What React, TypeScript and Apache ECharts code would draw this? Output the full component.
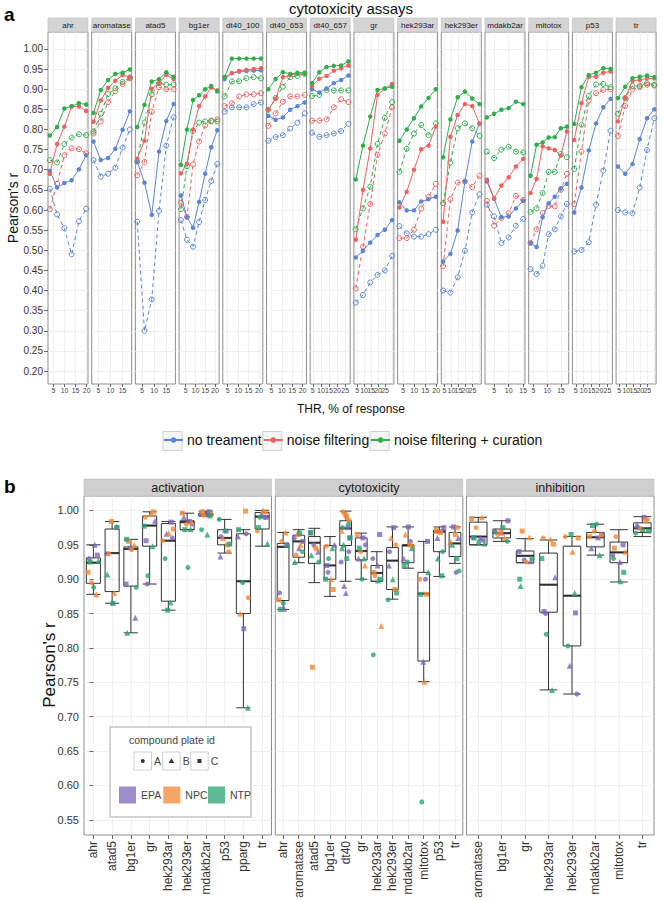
import React, { useEffect, useRef } from 'react';
import * as echarts from 'echarts';

// ---------------- Panel a data ----------------
const FACETS_A = ['ahr', 'aromatase', 'atad5', 'bg1er', 'dt40_100', 'dt40_653', 'dt40_657', 'gr', 'hek293ar', 'hek293er', 'mdakb2ar', 'mitotox', 'p53', 'tr'];

const THR = [
  [3.3, 6.6, 9.9, 13.2, 16.5, 19.8],
  [3, 6, 9, 12, 15, 18],
  [3, 6, 9, 12, 15, 18],
  [2.6, 5.7, 8.8, 11.9, 15, 18.1, 21.2],
  [3.5, 7, 10.5, 14, 17.5, 21],
  [3.5, 7, 10.5, 14, 17.5, 21],
  [4.5, 9, 13.5, 18, 22.5, 27],
  [4, 9.2, 14.4, 19.6, 24.8, 30],
  [3.3, 6.6, 9.9, 13.2, 16.5, 19.8],
  [4, 9.2, 14.4, 19.6, 24.8, 30],
  [2.5, 5, 7.5, 10, 12.5, 15],
  [3.9, 6.1, 8.3, 10.5, 12.7, 14.9, 17.1],
  [4, 8.6, 13.2, 17.8, 22.4, 27],
  [4, 9.2, 14.4, 19.6, 24.8, 30],
];

const X_TICKS_A = [
  [5, 10, 15, 20], [5, 10, 15], [5, 10, 15], [5, 10, 15, 20], [5, 10, 15, 20], [5, 10, 15, 20], [5, 10, 15, 20, 25],
  [5, 10, 15, 20, 25, 30], [5, 10, 15, 20], [5, 10, 15, 20, 25, 30], [5, 10, 15], [5, 10, 15], [5, 10, 15, 20, 25], [5, 10, 15, 20, 25, 30],
];

const Y_TICKS_A = [0.2, 0.25, 0.3, 0.35, 0.4, 0.45, 0.5, 0.55, 0.6, 0.65, 0.7, 0.75, 0.8, 0.85, 0.9, 0.95, 1.0];

// blue, solid (filled points)
const NO_TREAT = [
  [0.697, 0.656, 0.667, 0.674, 0.701, 0.736],
  [0.77, 0.724, 0.729, 0.752, 0.799, 0.845],
  [0.72, 0.668, 0.588, 0.745, 0.821, 0.863],
  [0.636, 0.582, 0.556, 0.62, 0.69, 0.756, 0.798],
  [0.925, 0.94, 0.944, 0.945, 0.946, 0.947],
  [0.834, 0.824, 0.83, 0.849, 0.858, 0.867],
  [0.9, 0.892, 0.902, 0.915, 0.923, 0.934],
  [0.482, 0.499, 0.519, 0.538, 0.551, 0.575],
  [0.619, 0.599, 0.599, 0.621, 0.627, 0.633],
  [0.472, 0.491, 0.549, 0.671, 0.77, 0.814],
  [0.671, 0.628, 0.582, 0.584, 0.604, 0.623],
  [0.518, 0.508, 0.582, 0.617, 0.633, 0.654, 0.665],
  [0.594, 0.656, 0.748, 0.815, 0.855, 0.876],
  [0.708, 0.69, 0.714, 0.776, 0.828, 0.85],
];
// blue, dashed (open points)
const NO_TREAT_OPEN = [
  [0.653, 0.589, 0.555, 0.49, 0.572, 0.603],
  [0.724, 0.683, 0.69, 0.705, 0.755, 0.8],
  [0.571, 0.3, 0.378, 0.598, 0.76, 0.83],
  [0.575, 0.526, 0.509, 0.57, 0.625, 0.672, 0.714],
  [0.844, 0.855, 0.855, 0.855, 0.863, 0.867],
  [0.772, 0.781, 0.786, 0.802, 0.817, 0.84],
  [0.792, 0.782, 0.786, 0.79, 0.796, 0.814],
  [0.37, 0.389, 0.42, 0.439, 0.45, 0.486],
  [0.56, 0.542, 0.534, 0.534, 0.54, 0.551],
  [0.4, 0.395, 0.433, 0.499, 0.594, 0.639],
  [0.613, 0.584, 0.518, 0.532, 0.561, 0.578],
  [0.453, 0.441, 0.462, 0.54, 0.552, 0.584, 0.615],
  [0.497, 0.501, 0.52, 0.613, 0.698, 0.797],
  [0.6, 0.594, 0.592, 0.656, 0.749, 0.828],
];
// red, solid
const NOISE = [
  [0.69, 0.764, 0.807, 0.857, 0.857, 0.846],
  [0.819, 0.872, 0.903, 0.921, 0.935, 0.93],
  [0.727, 0.772, 0.901, 0.915, 0.936, 0.925],
  [0.691, 0.715, 0.8, 0.858, 0.882, 0.904, 0.897],
  [0.93, 0.94, 0.945, 0.948, 0.95, 0.952],
  [0.849, 0.876, 0.93, 0.935, 0.938, 0.938],
  [0.908, 0.926, 0.933, 0.946, 0.952, 0.959],
  [0.526, 0.65, 0.753, 0.886, 0.901, 0.913],
  [0.606, 0.645, 0.7, 0.751, 0.76, 0.807],
  [0.571, 0.782, 0.836, 0.863, 0.858, 0.815],
  [0.675, 0.629, 0.661, 0.681, 0.708, 0.727],
  [0.642, 0.677, 0.758, 0.753, 0.749, 0.735, 0.795],
  [0.774, 0.865, 0.931, 0.931, 0.941, 0.944],
  [0.82, 0.878, 0.921, 0.923, 0.927, 0.927],
];
// red, dashed
const NOISE_OPEN = [
  [0.602, 0.665, 0.736, 0.753, 0.751, 0.741],
  [0.79, 0.82, 0.868, 0.895, 0.913, 0.927],
  [0.686, 0.719, 0.844, 0.905, 0.9, 0.9],
  [0.618, 0.583, 0.713, 0.77, 0.81, 0.82, 0.825],
  [0.858, 0.865, 0.882, 0.887, 0.887, 0.89],
  [0.809, 0.84, 0.869, 0.882, 0.882, 0.886],
  [0.822, 0.822, 0.825, 0.855, 0.875, 0.868],
  [0.405, 0.509, 0.615, 0.737, 0.79, 0.855],
  [0.53, 0.53, 0.551, 0.604, 0.633, 0.665],
  [0.461, 0.627, 0.668, 0.671, 0.657, 0.685],
  [0.623, 0.561, 0.58, 0.592, 0.635, 0.625],
  [0.518, 0.552, 0.592, 0.61, 0.609, 0.65, 0.69],
  [0.615, 0.745, 0.872, 0.89, 0.898, 0.9],
  [0.784, 0.858, 0.9, 0.905, 0.911, 0.909],
];
// green, solid
const CURATION = [
  [0.785, 0.806, 0.852, 0.858, 0.865, 0.862],
  [0.841, 0.898, 0.923, 0.938, 0.941, 0.949],
  [0.806, 0.861, 0.919, 0.925, 0.942, 0.931],
  [0.712, 0.8, 0.873, 0.885, 0.9, 0.908, 0.895],
  [0.93, 0.976, 0.976, 0.976, 0.976, 0.976],
  [0.9, 0.925, 0.942, 0.938, 0.941, 0.941],
  [0.915, 0.942, 0.955, 0.958, 0.959, 0.969],
  [0.676, 0.76, 0.832, 0.898, 0.902, 0.906],
  [0.772, 0.8, 0.828, 0.857, 0.878, 0.9],
  [0.731, 0.825, 0.88, 0.894, 0.877, 0.863],
  [0.83, 0.839, 0.849, 0.853, 0.869, 0.863],
  [0.685, 0.762, 0.768, 0.78, 0.781, 0.803, 0.807],
  [0.814, 0.905, 0.935, 0.941, 0.952, 0.95],
  [0.878, 0.906, 0.927, 0.931, 0.934, 0.93],
];
// green, dashed
const CURATION_OPEN = [
  [0.724, 0.718, 0.764, 0.78, 0.788, 0.786],
  [0.795, 0.839, 0.888, 0.902, 0.918, 0.929],
  [0.72, 0.817, 0.887, 0.915, 0.911, 0.911],
  [0.602, 0.709, 0.796, 0.817, 0.82, 0.822, 0.82],
  [0.882, 0.919, 0.92, 0.927, 0.93, 0.927],
  [0.849, 0.878, 0.906, 0.93, 0.933, 0.938],
  [0.883, 0.886, 0.898, 0.897, 0.897, 0.897],
  [0.552, 0.604, 0.658, 0.764, 0.829, 0.868],
  [0.695, 0.752, 0.79, 0.811, 0.786, 0.815],
  [0.617, 0.718, 0.803, 0.815, 0.803, 0.784],
  [0.745, 0.729, 0.75, 0.757, 0.745, 0.743],
  [0.595, 0.604, 0.642, 0.695, 0.695, 0.739, 0.731],
  [0.702, 0.812, 0.883, 0.912, 0.913, 0.905],
  [0.839, 0.878, 0.908, 0.908, 0.915, 0.911],
];

const NAMES_A = ['no treament', 'noise filtering', 'noise filtering + curation'];

// ---------------- Panel b data ----------------
const FACETS_B = ['activation', 'cytotoxicity', 'inhibition'];
const CAT_ACT = ['ahr', 'atad5', 'bg1er', 'gr', 'hek293ar', 'hek293er', 'mdakb2ar', 'p53', 'pparg', 'tr'];
const CAT_CYT = ['ahr', 'aromatase', 'atad5', 'bg1er', 'dt40', 'gr', 'hek293ar', 'hek293er', 'mdakb2ar', 'mitotox', 'p53', 'tr'];
const CAT_INH = ['aromatase', 'bg1er', 'gr', 'hek293ar', 'hek293er', 'mdakb2ar', 'mitotox', 'tr'];
const Y_TICKS_B = [0.55, 0.6, 0.65, 0.7, 0.75, 0.8, 0.85, 0.9, 0.95, 1.0];

// [lower whisker, Q1, median, Q3, upper whisker]
const BOX_ACT = [
  [0.878, 0.894, 0.924, 0.931, 0.95],
  [0.865, 0.882, 0.938, 0.973, 0.984],
  [0.822, 0.89, 0.944, 0.947, 0.958],
  [0.893, 0.948, 0.978, 0.992, 0.998],
  [0.855, 0.868, 0.956, 0.981, 0.984],
  [0.972, 0.972, 0.983, 0.985, 0.996],
  [0.992, 0.992, 0.995, 0.996, 0.999],
  [0.938, 0.95, 0.96, 0.972, 0.987],
  [0.713, 0.85, 0.897, 0.966, 0.972],
  [0.948, 0.973, 0.991, 0.997, 1.0],
];
const BOX_CYT = [
  [0.856, 0.869, 0.947, 0.952, 0.968],
  [0.924, 0.932, 0.955, 0.964, 0.972],
  [0.895, 0.923, 0.953, 0.962, 0.974],
  [0.875, 0.9, 0.92, 0.949, 0.962],
  [0.897, 0.949, 0.974, 0.985, 0.999],
  [0.9, 0.928, 0.941, 0.96, 0.967],
  [0.897, 0.897, 0.909, 0.92, 0.94],
  [0.871, 0.885, 0.927, 0.946, 0.976],
  [0.916, 0.924, 0.949, 0.95, 0.976],
  [0.751, 0.781, 0.879, 0.91, 0.955],
  [0.904, 0.94, 0.969, 0.971, 0.976],
  [0.923, 0.933, 0.952, 0.968, 0.976],
];
const BOX_INH = [
  [0.95, 0.95, 0.962, 0.983, 0.99],
  [0.955, 0.96, 0.967, 0.973, 0.985],
  [0.924, 0.924, 0.934, 0.941, 0.959],
  [0.739, 0.852, 0.892, 0.938, 0.957],
  [0.733, 0.803, 0.876, 0.948, 0.962],
  [0.935, 0.947, 0.961, 0.968, 0.98],
  [0.896, 0.924, 0.939, 0.954, 0.972],
  [0.962, 0.968, 0.974, 0.982, 0.991],
];

// per category: values for plates A, B, C (dt40 pools three assays)
const ACT_EPA = [[0.93, 0.95, 0.935], [0.937, 0.866, 0.975], [0.945, 0.844, 0.893], [0.893, 0.985, 0.956], [0.96, 0.966, 0.983], [0.98, 0.99, 0.984], [0.994, 0.996, 0.998], [0.962, 0.933, 0.97], [0.966, 0.962, 0.828], [0.99, 0.995, 0.99]];
const ACT_NPC = [[0.895, 0.878, 0.91], [0.937, 0.88, 0.984], [0.943, 0.95, 0.955], [0.99, 0.995, 0.998], [0.956, 0.967, 0.973], [0.98, 0.984, 0.996], [0.993, 0.996, 0.998], [0.94, 0.96, 0.95], [0.873, 0.85, 0.999], [0.97, 1.0, 0.998]];
const ACT_NTP = [[0.888, 0.927, 0.925], [0.976, 0.907, 0.865], [0.888, 0.822, 0.958], [0.905, 0.948, 0.977], [0.93, 0.866, 0.855], [0.917, 0.973, 0.972], [0.972, 0.965, 0.992], [0.987, 0.972, 0.951], [0.895, 0.713, 0.972], [0.99, 0.952, 0.975]];

const CYT_EPA = [[0.88, 0.857, 0.95], [0.96, 0.945, 0.955], [0.95, 0.94, 0.967], [0.91, 0.95, 0.92], [0.94, 0.89, 0.975, 0.925, 0.88, 0.96], [0.95, 0.93, 0.96], [0.93, 0.92, 0.965], [0.94, 0.92, 0.975], [0.955, 0.93, 0.976], [0.9, 0.78, 0.955], [0.97, 0.96, 0.975], [0.91, 0.96, 0.976]];
const CYT_NPC = [[0.955, 0.968, 0.87], [0.935, 0.95, 0.965], [0.946, 0.945, 0.772], [0.948, 0.9, 0.885], [0.998, 0.99, 0.995, 0.985, 0.97, 0.992], [0.94, 0.92, 0.965], [0.905, 0.832, 0.91], [0.95, 0.96, 0.885], [0.948, 0.965, 0.95], [0.9, 0.751, 0.878], [0.972, 0.97, 0.968], [0.975, 0.955, 0.965]];
const CYT_NTP = [[0.865, 0.95, 0.856], [0.94, 0.925, 0.967], [0.925, 0.935, 0.968], [0.93, 0.945, 0.9], [0.98, 0.95, 0.96, 0.975, 0.945, 0.93], [0.9, 0.93, 0.945], [0.79, 0.898, 0.9], [0.87, 0.9, 0.88], [0.925, 0.945, 0.92], [0.576, 0.91, 0.878], [0.94, 0.93, 0.905], [0.912, 0.95, 0.93]];

const INH_EPA = [[0.96, 0.96, 0.957], [0.97, 0.968, 0.985], [0.928, 0.926, 0.94], [0.85, 0.903, 0.853], [0.733, 0.774, 0.851], [0.965, 0.945, 0.96], [0.935, 0.925, 0.95], [0.975, 0.98, 0.99]];
const INH_NPC = [[0.975, 0.99, 0.988], [0.965, 0.96, 0.968], [0.925, 0.961, 0.97], [0.96, 0.958, 0.951], [0.962, 0.94, 0.96], [0.97, 0.965, 0.962], [0.962, 0.94, 0.945], [0.987, 0.975, 0.985]];
const INH_NTP = [[0.953, 0.952, 0.96], [0.955, 0.97, 0.975], [0.93, 0.89, 0.9], [0.82, 0.739, 0.93], [0.803, 0.88, 0.965], [0.98, 0.935, 0.978], [0.93, 0.897, 0.91], [0.967, 0.973, 0.97]];

const SOURCES = ['EPA', 'NPC', 'NTP'];
const PLATES = ['A', 'B', 'C'];

// ---------------- styling / layout ----------------
const FONT = 'Liberation Sans, Arial, Helvetica, sans-serif';
const COLORS_A = ['#5b86d6', '#ef625f', '#2fae4c'];
const COLORS_B = ['#7e67b6', '#f28834', '#2ba36f'];
const PLATE_SYMBOL: Record<string, string> = { A: 'circle', B: 'triangle', C: 'rect' };
const JIT = [-0.24, 0.08, 0.22, -0.1, 0.16, -0.3, 0.02, 0.28, -0.18, 0.12, -0.04, 0.25, -0.27, 0.05, 0.19, -0.13, 0.3, -0.2];

const A_LEFT = 48, A_W = 40, A_STEP = 43.7, A_TOP = 32, A_H = 352;
const A_YMIN = 0.168, A_YMAX = 1.042;
const B_LEFTS = [84, 275.3, 466.5], B_W = 187.5, B_TOP = 496, B_H = 339;
const B_YMIN = 0.528, B_YMAX = 1.021;

function buildOption() {
  const grid: any[] = [];
  const xAxis: any[] = [];
  const yAxis: any[] = [];
  const series: any[] = [];
  const gfx: any[] = [];

  const setsA: [number[][], number, boolean][] = [
    [NO_TREAT, 0, false], [NOISE, 1, false], [CURATION, 2, false],
    [NO_TREAT_OPEN, 0, true], [NOISE_OPEN, 1, true], [CURATION_OPEN, 2, true],
  ];

  FACETS_A.forEach((name, i) => {
    const left = A_LEFT + i * A_STEP;
    grid.push({ left, top: A_TOP, width: A_W, height: A_H, show: true, borderColor: '#8d8d8d', borderWidth: 1, backgroundColor: '#fff' });
    const xs = THR[i];
    const span = xs[xs.length - 1] - xs[0];
    xAxis.push({
      type: 'value', gridIndex: i, min: xs[0] - 0.05 * span, max: xs[xs.length - 1] + 0.05 * span,
      axisLine: { show: false },
      axisTick: { show: true, length: 3, customValues: X_TICKS_A[i], lineStyle: { color: '#444', width: 0.8 } },
      axisLabel: { customValues: X_TICKS_A[i], fontSize: 7, color: '#444', margin: 3, formatter: (v: number) => String(v) },
      splitLine: { show: true, lineStyle: { color: '#ececec', width: 0.8 } },
    });
    yAxis.push({
      type: 'value', gridIndex: i, min: A_YMIN, max: A_YMAX,
      axisLine: { show: false },
      axisTick: { show: true, length: i === 0 ? 4 : 0, customValues: Y_TICKS_A, lineStyle: { color: '#444', width: 0.8 } },
      axisLabel: { show: i === 0, customValues: Y_TICKS_A, fontSize: 10, color: '#333', margin: 5, formatter: (v: number) => v.toFixed(2) },
      splitLine: { show: true, lineStyle: { color: '#ececec', width: 0.8 } },
    });
    setsA.forEach(([arr, c, open]) => {
      const col = COLORS_A[c];
      series.push({
        type: 'line', name: NAMES_A[c], xAxisIndex: i, yAxisIndex: i, color: col,
        data: xs.map((x, j) => [x, arr[i][j]]),
        symbol: 'circle', symbolSize: open ? 5 : 4.5, showSymbol: true,
        lineStyle: { color: col, width: 1, type: open ? [4, 3] : 'solid' },
        itemStyle: open ? { color: 'rgba(255,255,255,0)', borderColor: col, borderWidth: 1 } : { color: col },
        emphasis: { disabled: true }, z: open ? 3 : 4, silent: true,
      });
    });
    gfx.push({ type: 'rect', shape: { x: left, y: 18, width: A_W, height: 14 }, style: { fill: '#d4d4d4', stroke: '#bdbdbd', lineWidth: 0.6 }, z: 1 });
    gfx.push({ type: 'text', x: left + A_W / 2, y: 25.5, style: { text: name, fontSize: 8, fontFamily: FONT, fill: '#1a1a1a', align: 'center', verticalAlign: 'middle' }, z: 2 });
  });

  // Panel b
  const catsB = [CAT_ACT, CAT_CYT, CAT_INH];
  const boxesB = [BOX_ACT, BOX_CYT, BOX_INH];
  const ptsB = [[ACT_EPA, ACT_NPC, ACT_NTP], [CYT_EPA, CYT_NPC, CYT_NTP], [INH_EPA, INH_NPC, INH_NTP]];
  const nA = FACETS_A.length;
  FACETS_B.forEach((fname, f) => {
    const gi = nA + f;
    grid.push({ left: B_LEFTS[f], top: B_TOP, width: B_W, height: B_H, show: true, borderColor: '#8d8d8d', borderWidth: 1, backgroundColor: '#fff' });
    yAxis.push({
      type: 'value', gridIndex: gi, min: B_YMIN, max: B_YMAX,
      axisLine: { show: false },
      axisTick: { show: true, length: f === 0 ? 4 : 0, customValues: Y_TICKS_B, lineStyle: { color: '#444', width: 0.8 } },
      axisLabel: { show: f === 0, customValues: Y_TICKS_B, fontSize: 11, color: '#333', margin: 5, formatter: (v: number) => v.toFixed(2) },
      splitLine: { show: true, lineStyle: { color: '#ececec', width: 0.8 } },
    });
    gfx.push({ type: 'rect', shape: { x: B_LEFTS[f], y: 479, width: B_W, height: 17 }, style: { fill: '#cfcfcf', stroke: '#bdbdbd', lineWidth: 0.6 }, z: 1 });
    gfx.push({ type: 'text', x: B_LEFTS[f] + B_W / 2, y: 488, style: { text: fname, fontSize: 12.5, fontFamily: FONT, fill: '#1a1a1a', align: 'center', verticalAlign: 'middle' }, z: 2 });
  });
  // category axes (for boxplots and labels)
  FACETS_B.forEach((_, f) => {
    xAxis.push({
      type: 'category', gridIndex: nA + f, data: catsB[f], boundaryGap: true,
      axisLine: { show: false },
      axisTick: { show: true, alignWithLabel: true, length: 4, lineStyle: { color: '#444', width: 0.8 } },
      axisLabel: { rotate: 90, fontSize: 12, color: '#333', margin: 6, interval: 0 },
      splitLine: { show: false },
    });
  });
  // value axes (for jittered points)
  FACETS_B.forEach((_, f) => {
    const n = catsB[f].length;
    xAxis.push({
      type: 'value', gridIndex: nA + f, min: -0.5, max: n - 0.5,
      axisLine: { show: false },
      axisTick: { show: false, customValues: catsB[f].map((_c, k) => k) },
      axisLabel: { show: false, customValues: catsB[f].map((_c, k) => k) },
      splitLine: { show: true, lineStyle: { color: '#ececec', width: 0.8 } },
    });
  });
  FACETS_B.forEach((_, f) => {
    const cats = catsB[f];
    const n = cats.length;
    const bw = (B_W / n) * 0.75;
    const catAxis = nA + f;
    const valAxis = nA + 3 + f;
    const yi = nA + f;
    series.push({
      type: 'boxplot', xAxisIndex: catAxis, yAxisIndex: yi, data: boxesB[f], boxWidth: [bw, bw],
      itemStyle: { color: 'rgba(255,255,255,0)', borderColor: '#333', borderWidth: 1 },
      emphasis: { disabled: true }, z: 2, silent: true,
    });
    series.push({
      type: 'scatter', xAxisIndex: valAxis, yAxisIndex: yi, data: boxesB[f].map((b, k) => [k, b[2]]),
      symbol: 'rect', symbolSize: [bw, 2.2], itemStyle: { color: '#222' }, z: 3, silent: true,
    });
    const counters = cats.map(() => 0);
    SOURCES.forEach((src, s) => {
      const arr = ptsB[f][s];
      const data: any[] = [];
      arr.forEach((vals, ci) => {
        vals.forEach((v, j) => {
          const k = counters[ci]++;
          const plate = PLATES[j % 3];
          data.push({ value: [ci + JIT[(k + ci * 5) % JIT.length] * 0.95, v], symbol: PLATE_SYMBOL[plate], symbolSize: plate === 'B' ? 6 : 5 });
        });
      });
      series.push({
        type: 'scatter', name: src, xAxisIndex: valAxis, yAxisIndex: yi, data,
        itemStyle: { color: COLORS_B[s] }, z: 4, silent: true, emphasis: { disabled: true },
      });
    });
  });

  // Titles & labels
  gfx.push({ type: 'text', x: 4, y: 5, style: { text: 'a', fontSize: 19, fontWeight: 'bold', fontFamily: FONT, fill: '#000' } });
  gfx.push({ type: 'text', x: 4, y: 477, style: { text: 'b', fontSize: 19, fontWeight: 'bold', fontFamily: FONT, fill: '#000' } });
  gfx.push({ type: 'text', x: 351, y: 8.5, style: { text: 'cytotoxicity assays', fontSize: 15, fontFamily: FONT, fill: '#111', align: 'center', verticalAlign: 'middle' }, z: 10 });
  gfx.push({ type: 'text', x: 351, y: 409, style: { text: 'THR, % of response', fontSize: 12, fontFamily: FONT, fill: '#111', align: 'center', verticalAlign: 'middle' } });
  gfx.push({ type: 'text', x: 12.5, y: 208, rotation: Math.PI / 2, style: { text: "Pearson's r", fontSize: 14, fontFamily: FONT, fill: '#111', align: 'center', verticalAlign: 'middle' } });
  gfx.push({ type: 'text', x: 49, y: 665, rotation: Math.PI / 2, style: { text: "Pearson's r", fontSize: 17, fontFamily: FONT, fill: '#111', align: 'center', verticalAlign: 'middle' } });

  // Panel a legend key boxes
  const legAX = [163, 262.7, 370];
  legAX.forEach((x) => {
    gfx.push({ type: 'rect', shape: { x, y: 431.5, width: 19, height: 19 }, style: { fill: '#f5f5f5', stroke: '#d0d0d0', lineWidth: 1 }, z: 0 });
  });

  // Panel b legend box
  gfx.push({ type: 'rect', shape: { x: 110, y: 727, width: 141, height: 90 }, style: { fill: '#fff', stroke: '#c9c2bd', lineWidth: 1.5 }, z: 5 });
  gfx.push({ type: 'text', x: 129, y: 740, style: { text: 'compound plate id', fontSize: 10.5, fontFamily: FONT, fill: '#444', verticalAlign: 'middle' }, z: 6 });
  const shapeX = [134, 162.7, 190.7];
  const shapeLab = ['A', 'B', 'C'];
  shapeX.forEach((x, k) => {
    gfx.push({ type: 'rect', shape: { x, y: 752, width: 17.5, height: 18 }, style: { fill: '#fff', stroke: '#cfcfcf', lineWidth: 1 }, z: 6 });
    const cx = x + 8.75, cy = 761;
    if (k === 0) gfx.push({ type: 'circle', shape: { cx, cy, r: 2 }, style: { fill: '#333' }, z: 7 });
    if (k === 1) gfx.push({ type: 'polygon', shape: { points: [[cx, cy - 2.8], [cx - 2.8, cy + 2], [cx + 2.8, cy + 2]] }, style: { fill: '#333' }, z: 7 });
    if (k === 2) gfx.push({ type: 'rect', shape: { x: cx - 2, y: cy - 2, width: 4, height: 4 }, style: { fill: '#333' }, z: 7 });
    gfx.push({ type: 'text', x: x + 20, y: cy, style: { text: shapeLab[k], fontSize: 10.5, fontFamily: FONT, fill: '#444', verticalAlign: 'middle' }, z: 7 });
  });

  const legends: any[] = [];
  NAMES_A.forEach((nm, k) => {
    legends.push({
      data: [nm], left: legAX[k], top: 433, padding: 0, itemWidth: 19, itemHeight: 7, itemGap: 0,
      textStyle: { fontSize: 14, fontFamily: FONT, color: '#111', padding: [0, 0, 0, -1] }, selectedMode: false, z: 6,
    });
  });
  const legBX = [119, 163.3, 208];
  SOURCES.forEach((nm, k) => {
    legends.push({
      data: [{ name: nm, icon: 'rect' }], left: legBX[k], top: 786.5, padding: 0, itemWidth: 17, itemHeight: 17, itemGap: 0,
      itemStyle: { opacity: 0.75 },
      textStyle: { fontSize: 10.5, fontFamily: FONT, color: '#444' }, selectedMode: false, z: 8,
    });
  });

  return {
    animation: false,
    backgroundColor: '#fff',
    textStyle: { fontFamily: FONT },
    grid, xAxis, yAxis, series,
    legend: legends,
    graphic: { elements: gfx },
  };
}

export default function App() {
  const ref = useRef<HTMLDivElement>(null);
  useEffect(() => {
    if (!ref.current) return;
    const chart = echarts.init(ref.current, null, { renderer: 'svg' });
    chart.setOption(buildOption() as any);
    return () => chart.dispose();
  }, []);
  return <div ref={ref} style={{ position: 'fixed', left: 0, top: 0, width: 663, height: 901, background: '#fff' }} />;
}
